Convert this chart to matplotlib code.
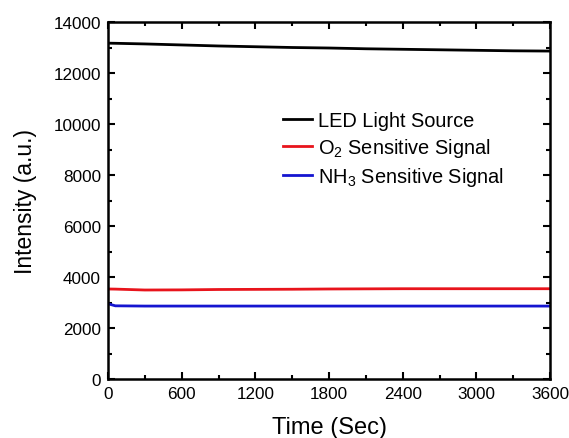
import numpy as np
import matplotlib
matplotlib.use("Agg")
import matplotlib.pyplot as plt
from matplotlib.ticker import MultipleLocator

plt.rcParams['font.family'] = ['Liberation Sans', 'DejaVu Sans']
plt.rcParams['mathtext.fontset'] = 'custom'
plt.rcParams['mathtext.rm'] = 'Liberation Sans'

# Sampled signal traces over the one-hour run
time_s = [0, 60, 300, 600, 900, 1200, 1500, 1800, 2100, 2400, 2700, 3000, 3300, 3600]
led_source = [13170, 13165, 13140, 13100, 13060, 13030, 13000, 12980, 12950, 12930, 12910, 12890, 12870, 12860]
o2_signal = [3530, 3525, 3490, 3495, 3510, 3515, 3520, 3530, 3535, 3540, 3540, 3540, 3540, 3540]
nh3_signal = [2950, 2870, 2860, 2860, 2860, 2860, 2860, 2860, 2860, 2860, 2860, 2860, 2860, 2860]

labels = ["LED Light Source", "O$_2$ Sensitive Signal", "NH$_3$ Sensitive Signal"]

fig = plt.figure(figsize=(5.69, 4.39), dpi=100)
ax = fig.add_axes([108 / 569, 1 - 380 / 439, (550 - 108) / 569, (380 - 23) / 439])

ax.plot(time_s, led_source, color='black', lw=2, label=labels[0])
ax.plot(time_s, o2_signal, color='#e8141c', lw=2, label=labels[1])
ax.plot(time_s, nh3_signal, color='#1515d0', lw=2, label=labels[2])

ax.set_xlim(0, 3600)
ax.set_ylim(0, 14000)
ax.xaxis.set_major_locator(MultipleLocator(600))
ax.xaxis.set_minor_locator(MultipleLocator(300))
ax.yaxis.set_major_locator(MultipleLocator(2000))
ax.yaxis.set_minor_locator(MultipleLocator(1000))
ax.tick_params(which='both', direction='in', top=True, right=True, width=1.5, labelsize=12.3)
ax.tick_params(which='major', length=5, pad=5)
ax.tick_params(which='minor', length=3)
for sp in ax.spines.values():
    sp.set_linewidth(1.8)

ax.set_xlabel("Time (Sec)", fontsize=17, labelpad=11)
ax.set_ylabel("Intensity (a.u.)", fontsize=16.5, labelpad=12)

leg = ax.legend(loc='upper left', bbox_to_anchor=(0.395, 0.75), frameon=False,
                fontsize=14.4, handlelength=1.45, handletextpad=0.3, labelspacing=0.3,
                borderaxespad=0, borderpad=0)

fig.savefig("out.png", dpi=100)
